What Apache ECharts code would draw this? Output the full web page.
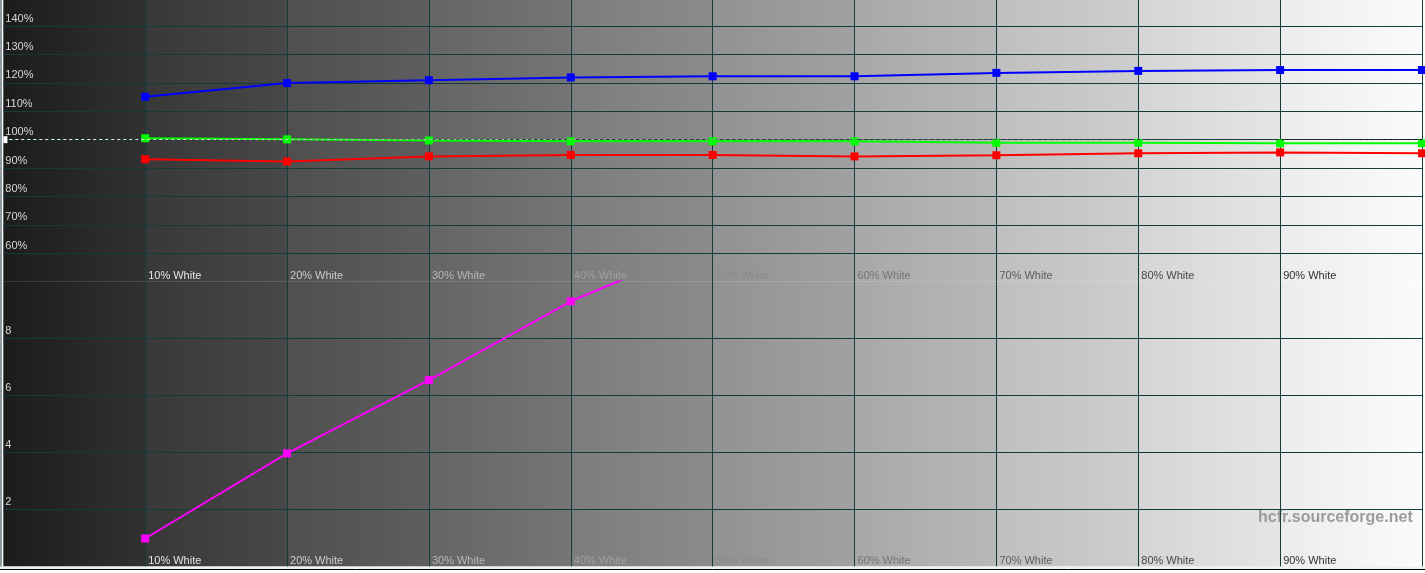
<!DOCTYPE html>
<html><head><meta charset="utf-8">
<script src="https://cdn.jsdelivr.net/npm/echarts@6/dist/echarts.min.js"></script>
<style>html,body{margin:0;padding:0;background:#fff;overflow:hidden}#c{width:1425px;height:573px}</style>
</head><body><div id="c"></div>
<script>
// ---- data ----
const levels = [10, 20, 30, 40, 50, 60, 70, 80, 90, 100];
const xTickValues = [10, 20, 30, 40, 50, 60, 70, 80, 90];
const xTickLabels = ['10% White', '20% White', '30% White', '40% White', '50% White', '60% White', '70% White', '80% White', '90% White'];
const redPct   = [93.1, 92.3, 94.1, 94.6, 94.6, 94.1, 94.5, 95.2, 95.5, 95.2];
const greenPct = [100.5, 100.1, 99.7, 99.4, 99.4, 99.4, 98.9, 98.9, 98.7, 98.7];
const bluePct  = [115.1, 119.9, 120.9, 121.9, 122.3, 122.3, 123.5, 124.2, 124.5, 124.5];
const deltaE   = [0.98, 3.97, 6.54, 9.31, 11.4];
const referencePct = 100;
const watermark = 'hcfr.sourceforge.net';

// ---- style helpers ----
function grey(v) { v = Math.max(0, Math.min(255, Math.round(v))); return 'rgb(' + v + ',' + v + ',' + v + ')'; }
function colStart(k) { return k === 0 ? 28 : 34 + 22.4 * k; }
const stops = [];
for (let k = 0; k < 10; k++) {
  stops.push({ offset: k / 10 + 0.0005, color: grey(colStart(k)) });
  stops.push({ offset: (k + 1) / 10 - 0.0005, color: grey(colStart(k + 1) - 7) });
}
const bgGrad = () => new echarts.graphic.LinearGradient(0, 0, 1, 0, stops);
const FONT = 'Liberation Sans, Arial, sans-serif';
const GRIDC = '#123c3c';

function xLabelText(v) {
  const i = xTickValues.indexOf(Number(v));
  return i >= 0 ? xTickLabels[i] : '';
}
function xLabelColor(v) { return grey(250 - 22.4 * (Number(v) / 10)); }

function xAxis(gridIndex) {
  return {
    type: 'value', gridIndex: gridIndex, min: 0, max: 100, interval: 10,
    axisLine: { show: false }, axisTick: { show: false },
    axisLabel: {
      inside: true, margin: 0, align: 'left', verticalAlign: 'bottom', padding: [0, 0, 0, 3],
      fontFamily: FONT, fontSize: 11, color: xLabelColor, formatter: xLabelText
    },
    splitLine: { show: true, showMinLine: false, showMaxLine: true, lineStyle: { color: GRIDC, width: 1 } }
  };
}
function yAxis(gridIndex, min, max, interval, fmt) {
  return {
    type: 'value', gridIndex: gridIndex, min: min, max: max, interval: interval,
    axisLine: { show: false }, axisTick: { show: false },
    axisLabel: {
      inside: true, margin: 2, verticalAlign: 'bottom', padding: [0, 0, 2, 0],
      showMinLabel: false, showMaxLabel: false,
      fontFamily: FONT, fontSize: 11, color: '#d8d8d8', formatter: fmt
    },
    splitLine: { show: true, showMinLine: false, showMaxLine: false, lineStyle: { color: GRIDC, width: 1 } }
  };
}
function lineSeries(xi, data, color, extra) {
  return Object.assign({
    type: 'line', xAxisIndex: xi, yAxisIndex: xi, data: data,
    symbol: 'rect', symbolSize: 8, clip: true,
    lineStyle: { width: 2, color: color }, itemStyle: { color: color },
    emphasis: { disabled: true }
  }, extra || {});
}

const chart = echarts.init(document.getElementById('c'), null, { renderer: 'canvas' });
chart.setOption({
  animation: false,
  grid: [
    { left: 3.3, right: 1.7, top: 0, height: 281.7, show: true, borderWidth: 0, backgroundColor: bgGrad() },
    { left: 3.3, right: 1.7, top: 281.6, height: 284.8, show: true, borderWidth: 0, backgroundColor: bgGrad() }
  ],
  xAxis: [xAxis(0), xAxis(1)],
  yAxis: [
    yAxis(0, 50, 149.15, 10, v => v + '%'),
    yAxis(1, 0, 10, 2, v => String(v))
  ],
  series: [
    lineSeries(0, levels.map((x, i) => [x, redPct[i]]), '#ff0000'),
    lineSeries(0, levels.map((x, i) => [x, greenPct[i]]), '#00ff00', {
      markLine: {
        silent: true, symbol: 'none', label: { show: false },
        lineStyle: {
          type: [3, 3], width: 1,
          color: new echarts.graphic.LinearGradient(0, 0, 1, 0, [
            { offset: 0, color: '#fafafa' }, { offset: 1, color: '#111111' }
          ])
        },
        data: [{ yAxis: referencePct }]
      },
      markPoint: {
        silent: true, symbol: 'rect', symbolSize: [4, 7], label: { show: false },
        itemStyle: { color: '#ffffff' },
        data: [{ coord: [0.15, referencePct] }]
      }
    }),
    lineSeries(0, levels.map((x, i) => [x, bluePct[i]]), '#0000ff'),
    lineSeries(1, deltaE.map((v, i) => [levels[i], v]), '#ff00ff')
  ],
  graphic: [
    { type: 'line', silent: true, shape: { x1: 1, y1: 0, x2: 1, y2: 567 }, style: { stroke: '#8d9ba1', lineWidth: 2 } },
    { type: 'rect', silent: true, shape: { x: 0, y: 566.5, width: 1425, height: 7 }, style: { fill: '#f0f0f0' } },
    { type: 'line', silent: true, shape: { x1: 0, y1: 569.5, x2: 1425, y2: 569.5 }, style: { stroke: '#000', lineWidth: 1 } },
    { type: 'rect', silent: true, shape: { x: 0, y: 570, width: 1425, height: 3 }, style: { fill: '#ffffff' } },
    { type: 'text', silent: true, x: 1258, y: 518,
      style: { text: watermark, fill: '#9c9c9c', font: 'bold 16px ' + FONT, verticalAlign: 'middle', align: 'left' } }
  ]
});
</script>
</body></html>
